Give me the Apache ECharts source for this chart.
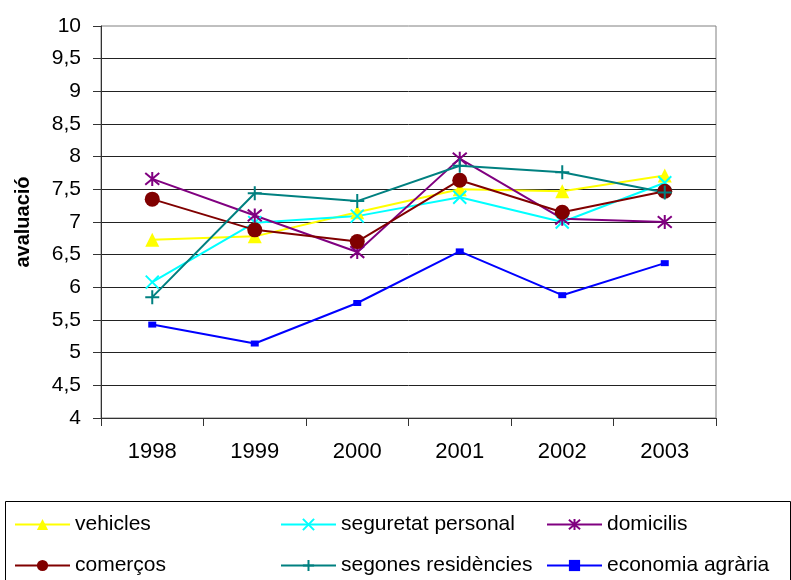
<!DOCTYPE html>
<html>
<head>
<meta charset="utf-8">
<script src="https://cdn.jsdelivr.net/npm/echarts@6/dist/echarts.min.js"></script>
<style>
html,body{margin:0;padding:0;background:#fff;}
#c{width:791px;height:580px;}
</style>
</head>
<body>
<div id="c"></div>
<script>
const years = ['1998','1999','2000','2001','2002','2003'];
const vehicles = [6.73, 6.78, 7.15, 7.50, 7.47, 7.71];
const seguretat = [6.08, 6.99, 7.09, 7.38, 7.00, 7.60];
const domicilis = [7.66, 7.10, 6.54, 7.97, 7.05, 7.00];
const comercos = [7.35, 6.88, 6.70, 7.64, 7.15, 7.47];
const segones = [5.85, 7.44, 7.32, 7.86, 7.76, 7.45];
const economia = [5.43, 5.14, 5.76, 6.55, 5.88, 6.37];
const yMin = 4, yMax = 10, yStep = 0.5;

const FONT = '"Liberation Sans", Arial, sans-serif';
const X_PATH = 'path://M0,0L10,10M10,0L0,10';
const AST_PATH = 'path://M0,0L10,10M10,0L0,10M5,-1L5,11';
const PLUS_PATH = 'path://M5,0L5,10M0,5L10,5';

function mk(name, data, color, symbol, size, stroke) {
  return {
    name: name, type: 'line', data: data,
    symbol: symbol, symbolSize: size,
    lineStyle: {color: color, width: 2},
    itemStyle: stroke ? {color: color, borderColor: color, borderWidth: 2} : {color: color, borderWidth: 0},
    emphasis: {disabled: true},
    animation: false
  };
}

const series = [
  mk('vehicles', vehicles, '#FFFF00', 'triangle', 14, false),
  mk('seguretat personal', seguretat, '#00FFFF', X_PATH, 13, true),
  mk('domicilis', domicilis, '#800080', AST_PATH, 14, true),
  mk('comerços', comercos, '#800000', 'circle', 15, false),
  mk('segones residències', segones, '#008080', PLUS_PATH, 14, true),
  mk('economia agrària', economia, '#0000FF', 'rect', [8, 6], false)
];

const legendPos = [
  [14, 521], [280, 521], [546, 521],
  [14, 562], [280, 562], [546, 562]
];
const legends = series.map((s, i) => ({
  data: [s.name],
  left: legendPos[i][0], top: legendPos[i][1] - 7,
  itemWidth: 55, itemHeight: 14, itemGap: 0, padding: 0,
  textStyle: {fontFamily: FONT, fontSize: 21, color: '#000'},
  selectedMode: false
}));

const chart = echarts.init(document.getElementById('c'), null, {renderer: 'canvas'});
chart.setOption({
  backgroundColor: '#fff',
  animation: false,
  grid: {left: 101, right: 75, top: 26, bottom: 162, show: true, borderColor: '#808080', borderWidth: 1},
  xAxis: {
    type: 'category', data: years, boundaryGap: true,
    axisLine: {lineStyle: {color: '#333', width: 1}},
    axisTick: {show: true, length: 8, alignWithLabel: false, lineStyle: {color: '#333'}},
    axisLabel: {fontFamily: FONT, fontSize: 22, color: '#000', margin: 23},
    splitLine: {show: false}
  },
  yAxis: {
    type: 'value', min: yMin, max: yMax, interval: yStep,
    name: 'avaluació', nameLocation: 'middle', nameRotate: 90, nameGap: 68,
    nameTextStyle: {fontFamily: FONT, fontSize: 20, fontWeight: 'bold', color: '#000'},
    axisLine: {show: true, lineStyle: {color: '#333', width: 1}},
    axisTick: {show: true, length: 8, lineStyle: {color: '#333'}},
    axisLabel: {fontFamily: FONT, fontSize: 21, color: '#000', margin: 20,
      formatter: v => String(v).replace('.', ',')},
    splitLine: {show: true, showMaxLine: false, lineStyle: {color: '#222', width: 1}}
  },
  legend: legends,
  graphic: [{
    type: 'rect', shape: {x: 5.5, y: 501.5, width: 785, height: 100},
    style: {fill: 'none', stroke: '#000', lineWidth: 1}, silent: true
  }],
  series: series
});
</script>
</body>
</html>
